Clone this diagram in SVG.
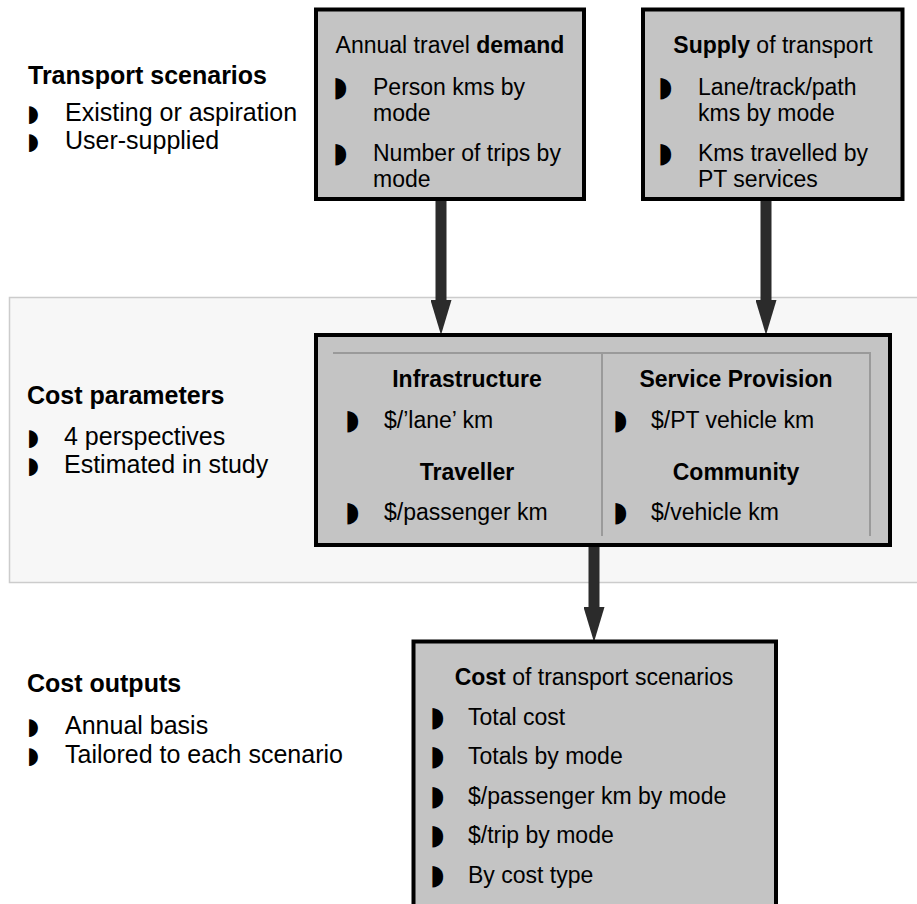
<svg xmlns="http://www.w3.org/2000/svg" width="917" height="904" viewBox="0 0 917 904">
  <style>
    text { font-family: "Liberation Sans", Arial, sans-serif; fill: #000; }
    .t { font-size: 23px; }
    .h { font-size: 23px; text-anchor: middle; }
    .hb { font-size: 23px; font-weight: bold; text-anchor: middle; }
    .sl { font-size: 25px; font-weight: bold; }
    .st { font-size: 25px; }
    .b { font-family: "DejaVu Sans", sans-serif; font-size: 28px; }
    .bs { font-family: "DejaVu Sans", sans-serif; font-size: 23px; }
    .box { fill: #c4c4c4; stroke: #000; stroke-width: 4; }
    .inner { stroke: #9a9a9a; stroke-width: 2; fill: none; }
    .conn { stroke: #2b2b2b; stroke-width: 11; fill: none; }
  </style>
  <defs>
    <marker id="ah" markerUnits="userSpaceOnUse" markerWidth="35" markerHeight="21" viewBox="0 0 35 21" refX="0" refY="10.5" orient="auto">
      <path d="M0,0 L35,10.5 L0,21 Z" fill="#2b2b2b"/>
    </marker>
  </defs>
  <rect width="917" height="904" fill="#fff"/>

  <g id="band">
    <rect x="9.5" y="297.5" width="910" height="285" fill="#f7f7f7" stroke="#cccccc" stroke-width="1.5"/>
  </g>

  <g id="label-scenarios">
    <text class="sl" x="28" y="84">Transport scenarios</text>
    <text class="bs" x="27" y="121">◗</text>
    <text class="st" x="65" y="121">Existing or aspiration</text>
    <text class="bs" x="27" y="149">◗</text>
    <text class="st" x="65" y="149">User-supplied</text>
  </g>

  <g id="label-parameters">
    <text class="sl" x="27" y="404">Cost parameters</text>
    <text class="bs" x="27" y="445">◗</text>
    <text class="st" x="64" y="445">4 perspectives</text>
    <text class="bs" x="27" y="473">◗</text>
    <text class="st" x="64" y="473">Estimated in study</text>
  </g>

  <g id="label-outputs">
    <text class="sl" x="27" y="692">Cost outputs</text>
    <text class="bs" x="27" y="734">◗</text>
    <text class="st" x="65" y="734">Annual basis</text>
    <text class="bs" x="27" y="763">◗</text>
    <text class="st" x="65" y="763">Tailored to each scenario</text>
  </g>

  <g id="connectors">
    <path class="conn" d="M441,201 V300" marker-end="url(#ah)"/>
    <path class="conn" d="M766,201 V300" marker-end="url(#ah)"/>
    <path class="conn" d="M594,547 V607" marker-end="url(#ah)"/>
  </g>

  <g id="demand">
    <rect class="box" x="316" y="9.5" width="268" height="189.5"/>
    <text class="h" x="450" y="53">Annual travel <tspan font-weight="bold">demand</tspan></text>
    <text class="b" x="333" y="96">◗</text>
    <text class="t" x="373" y="95">Person kms by</text>
    <text class="t" x="373" y="121">mode</text>
    <text class="b" x="333" y="162">◗</text>
    <text class="t" x="373" y="161">Number of trips by</text>
    <text class="t" x="373" y="187">mode</text>
  </g>

  <g id="supply">
    <rect class="box" x="643" y="9.5" width="259.5" height="189.5"/>
    <text class="h" x="773" y="53"><tspan font-weight="bold">Supply</tspan> of transport</text>
    <text class="b" x="658" y="96">◗</text>
    <text class="t" x="698" y="95">Lane/track/path</text>
    <text class="t" x="698" y="121">kms by mode</text>
    <text class="b" x="658" y="162">◗</text>
    <text class="t" x="698" y="161">Kms travelled by</text>
    <text class="t" x="698" y="187">PT services</text>
  </g>

  <g id="parameters">
    <rect class="box" x="316" y="335" width="574" height="210"/>
    <path class="inner" d="M333,353 H870 V536 M602,353 V536"/>
    <text class="hb" x="467" y="387">Infrastructure</text>
    <text class="b" x="345" y="429">◗</text>
    <text class="t" x="384" y="428">$/’lane’ km</text>
    <text class="hb" x="467" y="480">Traveller</text>
    <text class="b" x="345" y="521">◗</text>
    <text class="t" x="384" y="520">$/passenger km</text>
    <text class="hb" x="736" y="387">Service Provision</text>
    <text class="b" x="613" y="429">◗</text>
    <text class="t" x="651" y="428">$/PT vehicle km</text>
    <text class="hb" x="736" y="480">Community</text>
    <text class="b" x="613" y="521">◗</text>
    <text class="t" x="651" y="520">$/vehicle km</text>
  </g>

  <g id="outputs">
    <rect class="box" x="413.5" y="641.5" width="362.5" height="280"/>
    <text class="h" x="594" y="685"><tspan font-weight="bold">Cost</tspan> of transport scenarios</text>
    <text class="b" x="430" y="726">◗</text>
    <text class="t" x="468" y="725">Total cost</text>
    <text class="b" x="430" y="765">◗</text>
    <text class="t" x="468" y="764">Totals by mode</text>
    <text class="b" x="430" y="805">◗</text>
    <text class="t" x="468" y="804">$/passenger km by mode</text>
    <text class="b" x="430" y="844">◗</text>
    <text class="t" x="468" y="843">$/trip by mode</text>
    <text class="b" x="430" y="884">◗</text>
    <text class="t" x="468" y="883">By cost type</text>
  </g>
</svg>
